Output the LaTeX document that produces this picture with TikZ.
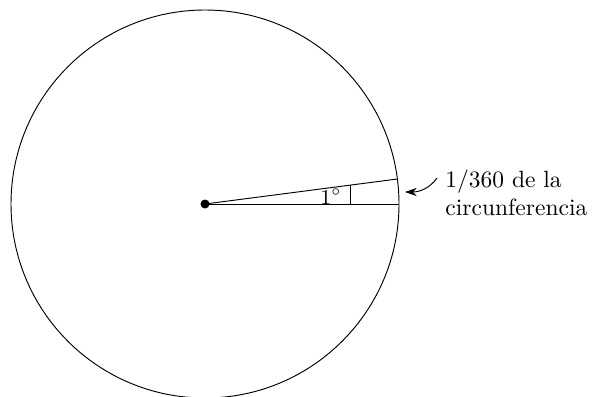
\documentclass[tikz,border=0pt]{standalone}
\usetikzlibrary{arrows.meta,calc}
\begin{document}
\begin{tikzpicture}[x=0.4255pt,y=-0.4255pt,
  thinline/.style={line width=0.4pt},
  lbl/.style={align=left,anchor=west,inner sep=0pt}]
\useasboundingbox (0,0) rectangle (596,396);
\coordinate (O) at (205,204);
\draw[thinline] (O) circle[radius=194];
\coordinate (A) at ($(O)+(194,0)$);
\coordinate (B) at ($(O)+(192.4,-25)$);
\draw[thinline] (O) -- (A);
\draw[thinline] (O) -- (B);
\coordinate (T1) at (350,204);
\coordinate (T2) at (350,185.2);
\draw[thinline] (T1) -- (T2);
\node[inner sep=0pt,font=\small] (deg) at (331,197) {$1^{\circ}$};
\fill (O) circle[radius=4.5];
\node[lbl] (txt) at (445,193) {1/360 de la\\circunferencia};
\coordinate (S) at (437,178);
\coordinate (E) at (405,192);
\draw[thinline,-{Stealth[length=5pt,width=3.5pt]}] (S) .. controls (429,189) and (419,192) .. (E);
\end{tikzpicture}
\end{document}
